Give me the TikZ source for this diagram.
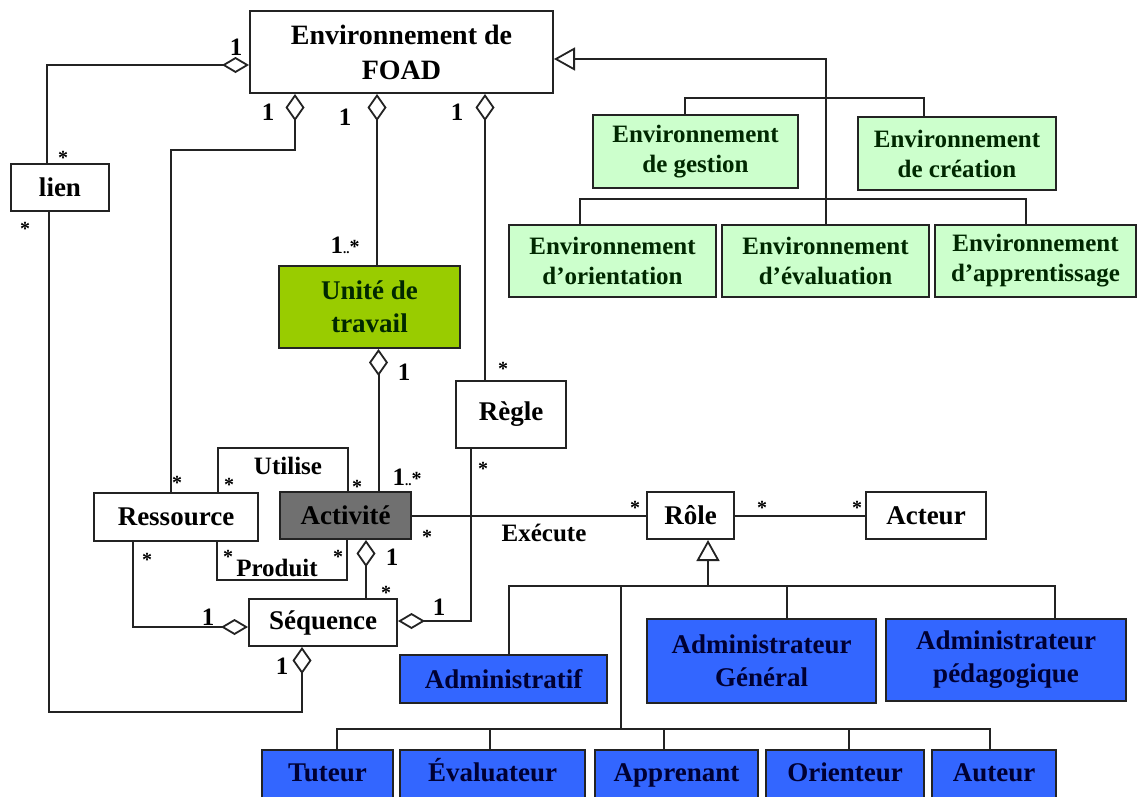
\documentclass[tikz,border=0pt]{standalone}
\usepackage{fontspec}
\setmainfont{Liberation Serif}
\usetikzlibrary{arrows.meta}
\definecolor{lgreen}{RGB}{204,255,204}
\definecolor{ugreen}{RGB}{153,204,0}
\definecolor{rblue}{RGB}{51,102,255}
\definecolor{agray}{RGB}{112,112,112}
\definecolor{navy}{RGB}{0,0,51}
\definecolor{dgreen}{RGB}{0,40,0}
\definecolor{ln}{RGB}{35,35,35}
\begin{document}
\begin{tikzpicture}[x=1pt,y=-1pt,
  box/.style={draw=ln, line width=2pt, inner sep=0pt, align=center, font=\fontsize{27}{33}\selectfont\bfseries, text=black},
  wbox/.style={box, fill=white},
  gbox/.style={box, fill=lgreen, text=dgreen, font=\fontsize{25}{30}\selectfont\bfseries},
  bluebox/.style={box, fill=rblue, text=navy},
  lowbox/.style={bluebox, minimum height=50pt, text height=18pt, text depth=6pt},
  conn/.style={draw=ln, line width=2pt},
  agg/.style={conn, -{Diamond[fill=white, length=27pt, width=19pt, line width=1.8pt]}},
  aggh/.style={conn, -{Diamond[fill=white, length=27pt, width=16pt, line width=1.8pt]}},
  gen/.style={conn, -{Triangle[fill=white, length=21pt, width=23pt, line width=1.8pt]}},
  stl/.style={font=\fontsize{20}{20}\selectfont\bfseries, inner sep=0pt},
  onel/.style={font=\fontsize{25}{25}\selectfont\bfseries, inner sep=0pt},
  lab/.style={font=\fontsize{25}{25}\selectfont\bfseries, inner sep=0pt},
]
\fill[white] (0,0) rectangle (1139,796);
\useasboundingbox (0,0) rectangle (1139,796);

% boxes
\node[wbox, minimum width=303pt, minimum height=82pt, font=\fontsize{28}{35}\selectfont\bfseries] (foad) at (401.5,52) {Environnement de\\FOAD};
\node[wbox, minimum width=98pt, minimum height=47pt] (lien) at (60,187.5) {lien};
\node[gbox, minimum width=205pt, minimum height=73pt] (ges) at (695.5,151.5) {Environnement\\de gestion};
\node[gbox, minimum width=198pt, minimum height=73pt] (cre) at (957,153.5) {Environnement\\de création};
\node[gbox, minimum width=207pt, minimum height=72pt] (ori) at (612.5,261) {Environnement\\d’orientation};
\node[gbox, minimum width=207pt, minimum height=72pt] (evl) at (825.5,261) {Environnement\\d’évaluation};
\node[gbox, minimum width=201pt, minimum height=72pt] (app) at (1035.5,261) {Environnement\\d’apprentissage};
\node[box, fill=ugreen, text=dgreen, minimum width=181pt, minimum height=82pt] (unite) at (369.5,307) {Unité de\\travail};
\node[wbox, minimum width=110pt, minimum height=67pt] (regle) at (511,414.5) {Règle};
\node[wbox, minimum width=164pt, minimum height=48pt] (res) at (176,517) {Ressource};
\node[box, fill=agray, minimum width=131pt, minimum height=47pt] (act) at (345.5,515.5) {Activité};
\node[wbox, minimum width=148pt, minimum height=47pt] (seq) at (323,622.5) {Séquence};
\node[wbox, minimum width=87pt, minimum height=47pt] (role) at (690.5,515.5) {Rôle};
\node[wbox, minimum width=120pt, minimum height=47pt] (acteur) at (926,515.5) {Acteur};
\node[bluebox, minimum width=207pt, minimum height=48pt] (admf) at (503.5,679) {Administratif};
\node[bluebox, minimum width=229pt, minimum height=84pt] (admg) at (761.5,661) {Administrateur\\Général};
\node[bluebox, minimum width=240pt, minimum height=82pt] (admp) at (1006,660) {Administrateur\\pédagogique};
\node[lowbox, minimum width=131pt] (tut) at (327.5,775) {Tuteur};
\node[lowbox, minimum width=185pt] (evr) at (492.5,775) {Évaluateur};
\node[lowbox, minimum width=163pt] (apr) at (676.5,775) {Apprenant};
\node[lowbox, minimum width=158pt] (ort) at (845,775) {Orienteur};
\node[lowbox, minimum width=124pt] (aut) at (994,775) {Auteur};

% connectors
\coordinate (gA) at (47,65);
\draw[aggh] (lien.north -| gA) -- (gA) -- (foad.west |- gA);
\coordinate (gB) at (171,150); \coordinate (gB2) at (295,150);
\draw[agg] (res.north -| gB) -- (gB) -- (gB2) -- (foad.south -| gB2);
\coordinate (gC) at (377,0);
\draw[agg] (unite.north -| gC) -- (foad.south -| gC);
\coordinate (gD) at (485,0);
\draw[agg] (regle.north -| gD) -- (foad.south -| gD);
\coordinate (gE) at (825.5,59);
\draw[gen] (evl.north) -- (gE) -- (foad.east |- gE);
\coordinate (b1l) at (685,98); \coordinate (b1r) at (924,98);
\draw[conn] (ges.north -| b1l) -- (b1l) -- (b1r) -- (cre.north -| b1r);
\coordinate (b2l) at (580,199); \coordinate (b2r) at (1026,199);
\draw[conn] (ori.north -| b2l) -- (b2l) -- (b2r) -- (app.north -| b2r);
\coordinate (gF) at (378.5,0);
\draw[agg] (act.north -| gF) -- (unite.south -| gF);
\coordinate (u1) at (218,448); \coordinate (u2) at (348,448);
\draw[conn] (res.north -| u1) -- (u1) -- (u2) -- (act.north -| u2);
\coordinate (p1) at (217,580); \coordinate (p2) at (347,580);
\draw[conn] (res.south -| p1) -- (p1) -- (p2) -- (act.south -| p2);
\draw[conn] (act.east) -- (role.west);
\draw[conn] (role.east) -- (acteur.west);
\coordinate (gG) at (471,621);
\draw[aggh] (regle.south -| gG) -- (gG) -- (seq.east |- gG);
\coordinate (gH) at (366,0);
\draw[agg] (seq.north -| gH) -- (act.south -| gH);
\coordinate (gI) at (133,627);
\draw[aggh] (res.south -| gI) -- (gI) -- (seq.west |- gI);
\coordinate (gJ) at (49,712); \coordinate (gJ2) at (302,712);
\draw[agg] (lien.south -| gJ) -- (gJ) -- (gJ2) -- (seq.south -| gJ2);

\coordinate (r0) at (708,586); \coordinate (r1) at (509,586);
\coordinate (r2) at (621,586); \coordinate (r3) at (787,586);
\coordinate (r4) at (1055,586);
\draw[gen] (r0) -- (role.south -| r0);
\draw[conn] (admf.north -| r1) -- (r1) -- (r4) -- (admp.north -| r4);
\draw[conn] (r3) -- (admg.north -| r3);
\coordinate (l0) at (621,729);
\draw[conn] (r2) -- (l0);
\coordinate (l1) at (337,729); \coordinate (l2) at (490,729);
\coordinate (l3) at (664,729); \coordinate (l4) at (849,729);
\coordinate (l5) at (990,729);
\draw[conn] (tut.north -| l1) -- (l1) -- (l5) -- (aut.north -| l5);
\draw[conn] (l2) -- (evr.north -| l2);
\draw[conn] (l3) -- (apr.north -| l3);
\draw[conn] (l4) -- (ort.north -| l4);

% multiplicities
\node[stl] (s1) at (63,158) {*};
\node[stl] (s2) at (25,229) {*};
\node[stl] (s3) at (177,483) {*};
\node[stl] (s4) at (229,485) {*};
\node[stl] (s5) at (357,487) {*};
\node[stl] (s6) at (228,557) {*};
\node[stl] (s7) at (338,557) {*};
\node[stl] (s8) at (147,560) {*};
\node[stl] (s9) at (427,537) {*};
\node[stl] (s10) at (635,508) {*};
\node[stl] (s11) at (762,508) {*};
\node[stl] (s12) at (857,508) {*};
\node[stl] (s13) at (503,369) {*};
\node[stl] (s14) at (483,469) {*};
\node[stl] (s15) at (386,593) {*};

\node[onel] (o1) at (236,47) {1};
\node[onel] (o2) at (268,112) {1};
\node[onel] (o3) at (345,117) {1};
\node[onel] (o4) at (457,112) {1};
\node[onel] (o5) at (404,372) {1};
\node[onel] (o6) at (392,557) {1};
\node[onel] (o7) at (208,617) {1};
\node[onel] (o8) at (439,607) {1};
\node[onel] (o9) at (282,666) {1};

\node[onel] (m1) at (345,245) {1{\fontsize{13}{13}\selectfont..}{\fontsize{20}{20}\selectfont*}};
\node[onel] (m2) at (407,477) {1{\fontsize{13}{13}\selectfont..}{\fontsize{20}{20}\selectfont*}};

\node[lab] (tu) at (288,466) {Utilise};
\node[lab] (tp) at (277,568) {Produit};
\node[lab] (te) at (544,533) {Exécute};
\end{tikzpicture}
\end{document}
